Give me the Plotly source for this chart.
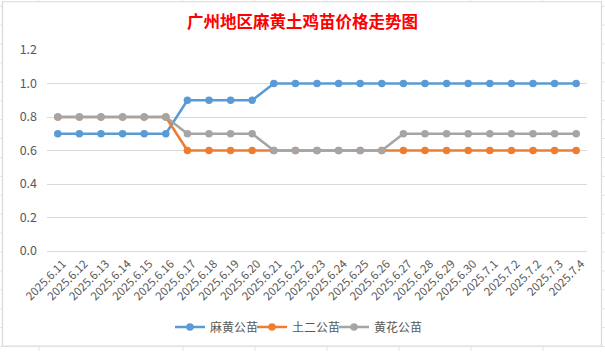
import plotly.graph_objects as go

dates = ["2025.6.11", "2025.6.12", "2025.6.13", "2025.6.14", "2025.6.15", "2025.6.16",
         "2025.6.17", "2025.6.18", "2025.6.19", "2025.6.20", "2025.6.21", "2025.6.22",
         "2025.6.23", "2025.6.24", "2025.6.25", "2025.6.26", "2025.6.27", "2025.6.28",
         "2025.6.29", "2025.6.30", "2025.7.1", "2025.7.2", "2025.7.2", "2025.7.3", "2025.7.4"]

mahuang = [0.7, 0.7, 0.7, 0.7, 0.7, 0.7, 0.9, 0.9, 0.9, 0.9, 1.0, 1.0, 1.0, 1.0, 1.0, 1.0,
           1.0, 1.0, 1.0, 1.0, 1.0, 1.0, 1.0, 1.0, 1.0]
tuer = [0.8, 0.8, 0.8, 0.8, 0.8, 0.8, 0.6, 0.6, 0.6, 0.6, 0.6, 0.6, 0.6, 0.6, 0.6, 0.6,
        0.6, 0.6, 0.6, 0.6, 0.6, 0.6, 0.6, 0.6, 0.6]
huanghua = [0.8, 0.8, 0.8, 0.8, 0.8, 0.8, 0.7, 0.7, 0.7, 0.7, 0.6, 0.6, 0.6, 0.6, 0.6, 0.6,
            0.7, 0.7, 0.7, 0.7, 0.7, 0.7, 0.7, 0.7, 0.7]

series_names = ["麻黄公苗", "土二公苗", "黄花公苗"]
colors = ["#5B9BD5", "#ED7D31", "#A5A5A5"]
yticks = [0.0, 0.2, 0.4, 0.6, 0.8, 1.0, 1.2]
title_text = "广州地区麻黄土鸡苗价格走势图"

FONT = "Noto Sans CJK SC"
idx = list(range(len(dates)))

W, H = 605, 352
L, R, T, B = 47, 18, 50, 100
pw, ph = W - L - R, H - T - B

def px_x(px):
    return (px - L) / pw

def px_y(py):
    return (H - B - py) / ph

legend_ids = ["legend", "legend2", "legend3"]
legend_left_px = [170, 252, 334]

fig = go.Figure()
for name, vals, c, lid in zip(series_names, [mahuang, tuer, huanghua], colors, legend_ids):
    fig.add_trace(go.Scatter(
        x=idx, y=vals, name=name, mode="lines+markers",
        line=dict(color=c, width=2.6),
        marker=dict(color=c, size=7.5),
        hoverinfo="x+y+name", legend=lid,
    ))

shapes = []
border = "#D9D9D9"
# chart frame
shapes.append(dict(type="rect", xref="paper", yref="paper",
                   x0=px_x(2.5), x1=px_x(601.5), y0=px_y(347.5), y1=px_y(1.5),
                   line=dict(color=border, width=1.2), layer="below"))
# spreadsheet cell lines peeking outside the chart
for py in range(6, 352, 19):
    for a, b in [(0, 2.5), (601.5, 605)]:
        shapes.append(dict(type="line", xref="paper", yref="paper",
                           x0=px_x(a), x1=px_x(b), y0=px_y(py), y1=px_y(py),
                           line=dict(color="#E3E3E3", width=1)))
for pxv in [39, 183, 255, 327, 399, 471, 543]:
    for a, b in [(0, 1.5), (347.5, 352)]:
        shapes.append(dict(type="line", xref="paper", yref="paper",
                           x0=px_x(pxv), x1=px_x(pxv), y0=px_y(a), y1=px_y(b),
                           line=dict(color="#E3E3E3", width=1)))

legend_common = dict(orientation="h", yanchor="middle", y=px_y(327), xanchor="left",
                     font=dict(family=FONT, size=12, color="#595959"), itemwidth=30,
                     bgcolor="rgba(0,0,0,0)")

layout_legends = {lid: dict(legend_common, x=px_x(lx)) for lid, lx in zip(legend_ids, legend_left_px)}

fig.update_layout(
    width=W, height=H,
    margin=dict(l=L, r=R, t=T, b=B, pad=0),
    paper_bgcolor="white", plot_bgcolor="white",
    font=dict(family=FONT, size=12, color="#595959"),
    title=dict(text=title_text, x=0.5, xanchor="center", y=1 - 22 / H, yanchor="middle",
               font=dict(family=FONT, size=16.5, color="#FF0000", weight="bold")),
    showlegend=True,
    xaxis=dict(tickmode="array", tickvals=idx, ticktext=dates, tickangle=-45,
               range=[-0.5, len(dates) - 0.5], showgrid=False, zeroline=False,
               showline=False, ticks="", ticklabelshift=5, ticklabelstandoff=3,
               tickfont=dict(family=FONT, size=11.5, color="#595959"),
               fixedrange=True),
    yaxis=dict(range=[0, 1.2], tickmode="array", tickvals=yticks,
               ticktext=[f"{v:.1f}" for v in yticks], showgrid=True, gridcolor="#D9D9D9",
               gridwidth=1, zeroline=True, zerolinecolor="#D9D9D9", zerolinewidth=1,
               showline=False, ticks="", ticklabelstandoff=9,
               tickfont=dict(family=FONT, size=12.5, color="#595959"), fixedrange=True),
    shapes=shapes,
    hovermode="closest",
    **layout_legends,
)

fig.write_html("out.html", config={"displayModeBar": False})
